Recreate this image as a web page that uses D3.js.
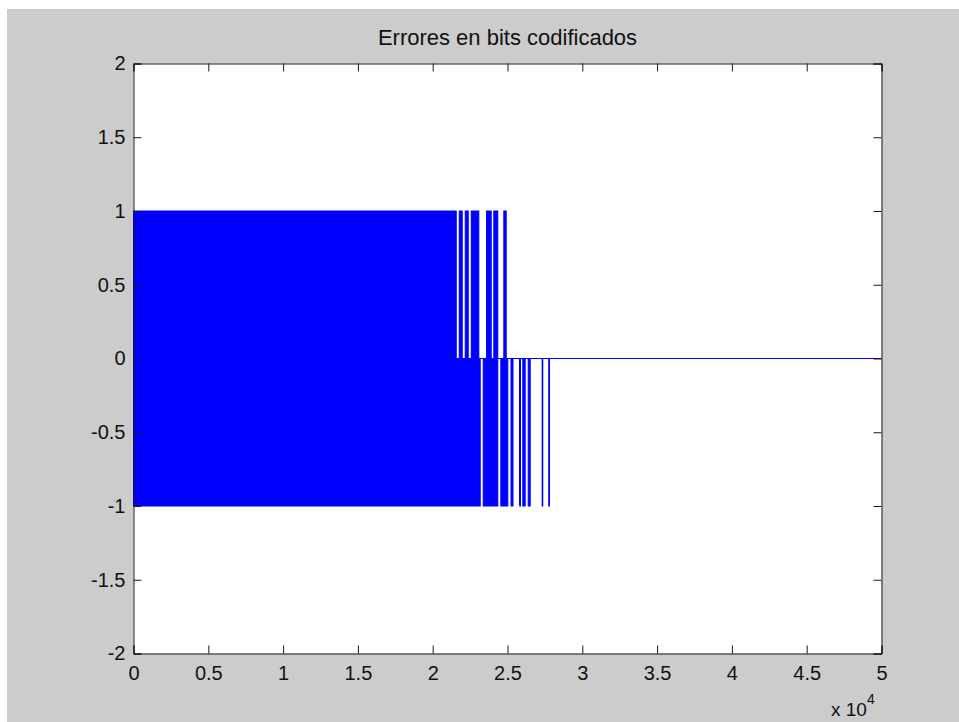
<!DOCTYPE html>
<html>
<head>
<meta charset="utf-8">
<script src="https://d3js.org/d3.v7.min.js"></script>
<style>
  html, body { margin: 0; padding: 0; background: #ffffff; }
  svg { display: block; }
  text { font-family: Arial, "Liberation Sans", sans-serif; fill: #111; }
</style>
</head>
<body>
<svg id="chart" width="959" height="722"></svg>
<script>
// ---- data ----
const title = "Errores en bits codificados";
const xTicks = [0, 5000, 10000, 15000, 20000, 25000, 30000, 35000, 40000, 45000, 50000];
const xTickLabels = ["0", "0.5", "1", "1.5", "2", "2.5", "3", "3.5", "4", "4.5", "5"];
const yTicks = [-2, -1.5, -1, -0.5, 0, 0.5, 1, 1.5, 2];
const yTickLabels = ["-2", "-1.5", "-1", "-0.5", "0", "0.5", "1", "1.5", "2"];
const xExponent = "4";
const nSamples = 50000;
// sample ranges where the error signal reaches +1 (densely toggling inside)
const upperRuns = [
  [0, 21573], [21773, 21974], [22174, 22375], [22575, 23083],
  [23598, 23911], [24085, 24352], [24753, 24914]
];
// sample ranges where the error signal reaches -1
const lowerRuns = [
  [0, 23177], [23377, 24352], [24553, 25021], [25234, 25368],
  [25802, 25869], [26022, 26183], [26383, 26517], [27318, 27358], [27759, 27806]
];
const baseline = 0;

// ---- drawing ----
const svg = d3.select("#chart");
const W = 959, H = 722;
const L = 133.5, R = 881.5, T = 63.5, B = 653.5;

svg.append("rect").attr("x", 7).attr("y", 9).attr("width", W - 7).attr("height", H - 9)
  .attr("fill", "#cccccc");
svg.append("rect").attr("x", L).attr("y", T).attr("width", R - L).attr("height", B - T)
  .attr("fill", "#ffffff");

const x = d3.scaleLinear().domain([0, nSamples]).range([L, R]);
const y = d3.scaleLinear().domain([-2, 2]).range([B, T]);

const blue = "#0000ff";
const plot = svg.append("g");

// baseline (signal at 0)
plot.append("line")
  .attr("x1", x(0)).attr("x2", x(nSamples))
  .attr("y1", y(baseline)).attr("y2", y(baseline))
  .attr("stroke", blue).attr("stroke-width", 1);

plot.selectAll("rect.up").data(upperRuns).join("rect")
  .attr("class", "up")
  .attr("x", d => x(d[0]))
  .attr("width", d => Math.max(0, x(d[1]) - x(d[0])))
  .attr("y", y(1))
  .attr("height", y(0) - y(1))
  .attr("fill", blue).attr("stroke", blue).attr("stroke-width", 1);

plot.selectAll("rect.down").data(lowerRuns).join("rect")
  .attr("class", "down")
  .attr("x", d => x(d[0]))
  .attr("width", d => Math.max(0, x(d[1]) - x(d[0])))
  .attr("y", y(0))
  .attr("height", y(-1) - y(0))
  .attr("fill", blue).attr("stroke", blue).attr("stroke-width", 1);

// axes box
const tickLen = 8;
const axisColor = "#1a1a1a";
const fmtX = d => xTickLabels[xTicks.indexOf(d)];
const fmtY = d => yTickLabels[yTicks.indexOf(d)];

const gB = svg.append("g").attr("transform", `translate(0,${B})`)
  .call(d3.axisBottom(x).tickValues(xTicks).tickFormat(fmtX).tickSize(-tickLen).tickPadding(12));
const gT = svg.append("g").attr("transform", `translate(0,${T})`)
  .call(d3.axisTop(x).tickValues(xTicks).tickFormat("").tickSize(-tickLen));
const gL = svg.append("g").attr("transform", `translate(${L},0)`)
  .call(d3.axisLeft(y).tickValues(yTicks).tickFormat(fmtY).tickSize(-tickLen).tickPadding(8));
const gR = svg.append("g").attr("transform", `translate(${R},0)`)
  .call(d3.axisRight(y).tickValues(yTicks).tickFormat("").tickSize(-tickLen));

[gB, gT, gL, gR].forEach(g => {
  g.select(".domain").attr("stroke", axisColor).attr("stroke-width", 1);
  g.selectAll(".tick line").attr("stroke", axisColor).attr("stroke-width", 1);
  g.selectAll(".tick text").attr("font-size", 20).attr("fill", "#111")
    .attr("font-family", "Arial, 'Liberation Sans', sans-serif");
});
gB.selectAll(".tick text").attr("dy", "0.71em");

// exponent label
const ex = svg.append("text").attr("x", 831).attr("y", 716).attr("font-size", 19);
ex.append("tspan").text("x 10");
ex.append("tspan").attr("dy", -12).attr("font-size", 14).text(xExponent);

// title
svg.append("text").attr("x", (L + R) / 2).attr("y", 45).attr("text-anchor", "middle")
  .attr("font-size", 22).text(title);
</script>
</body>
</html>
